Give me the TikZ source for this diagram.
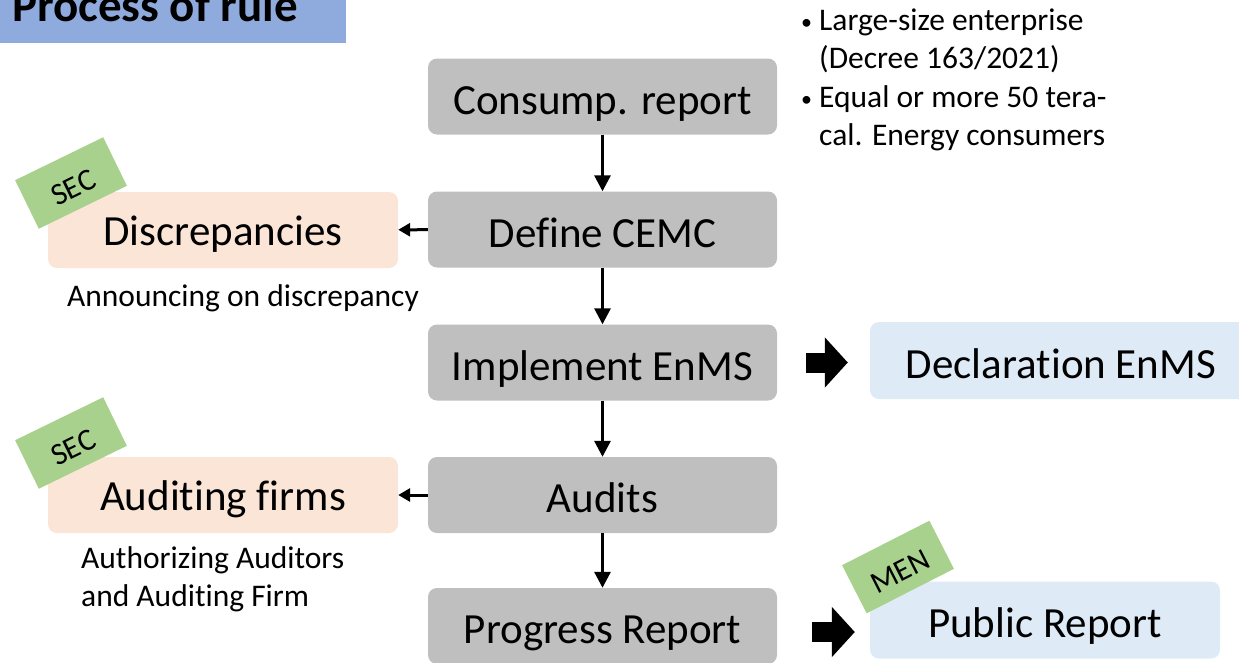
\documentclass[tikz,border=0pt]{standalone}
\usepackage{fontspec}
\setmainfont{Carlito}[RawFeature={-liga;-clig;-dlig;-calt}]
\usetikzlibrary{arrows.meta}
\definecolor{titleblue}{HTML}{8FAADC}
\definecolor{boxgray}{HTML}{BFBFBF}
\definecolor{peach}{HTML}{FBE5D6}
\definecolor{lightblue}{HTML}{DEEBF7}
\definecolor{taggreen}{HTML}{A9D18E}
\tikzset{
  boxbase/.style={rounded corners=9pt, minimum height=76pt, inner sep=0pt, text height=35pt, text depth=0pt, font=\fontsize{43}{50}\selectfont},
  gbox/.style={boxbase, fill=boxgray, minimum width=349pt},
  pbox/.style={boxbase, fill=peach, minimum width=350pt, text height=30pt},
  bbox/.style={boxbase, fill=lightblue, minimum height=77pt},
  tag/.style={fill=taggreen, minimum width=98pt, minimum height=54pt, inner sep=0pt, text height=30pt, text depth=0pt, font=\fontsize{31}{34}\selectfont},
  note/.style={font=\fontsize{31.5}{38.5}\selectfont, inner sep=0pt},
  flow/.style={line width=3pt, -{Triangle[length=16pt,width=16pt]}},
  sideflow/.style={line width=3pt, -{Triangle[length=12pt,width=13pt]}},
  blockarrow/.style={line width=20pt, -{Triangle[length=23pt,width=49pt]}},
}
\begin{document}
\begin{tikzpicture}[x=1pt,y=-1pt]
\useasboundingbox (0,0) rectangle (1239,662);
\clip (0,0) rectangle (1239,662);
% title
\fill[titleblue] (0,-5) rectangle (346,43);
\node[anchor=base west, inner sep=0pt, font=\fontsize{47}{52}\selectfont\bfseries] (title) at (12,21) {Process of rule};
% main column
\node[gbox] (c1) at (602.5,96.5) {Consump. report};
\node[gbox] (c2) at (602.5,229.5) {Define CEMC};
\node[gbox] (c3) at (602.5,362.5) {Implement EnMS};
\node[gbox] (c4) at (602.5,495) {Audits};
\node[gbox] (c5) at (602.5,626) {Progress Report};
% left boxes
\node[pbox] (disc) at (223,230) {Discrepancies};
\node[pbox] (audf) at (223,495) {Auditing firms};
% right boxes
\node[bbox, minimum width=382pt] (decl) at (1061,360.5) {Declaration EnMS};
\node[bbox, minimum width=350pt] (pub) at (1045,620) {Public Report};
% tags
\node[tag, rotate=26] (sec1) at (71,183) {SEC};
\node[tag, rotate=26] (sec2) at (71,443) {SEC};
\node[tag, rotate=27] (men) at (898,567) {MEN};
% notes
\node[note, anchor=base] (n1) at (243,306) {Announcing on discrepancy};
\node[note, anchor=base west] (n2) at (81,568) {\begin{tabular}[t]{@{}l@{}}Authorizing Auditors\\and Auditing Firm\end{tabular}};
\node[note, anchor=base west] (n3) at (801,30) {\begin{tabular}[t]{@{}l@{}}\makebox[18pt][l]{\raisebox{1pt}{\fontsize{22}{22}\selectfont\textbullet}}Large-size enterprise\\\hspace*{18pt}(Decree 163/2021)\\\makebox[18pt][l]{\raisebox{1pt}{\fontsize{22}{22}\selectfont\textbullet}}Equal or more 50 tera-\\\hspace*{18pt}cal. Energy consumers\end{tabular}};
% connectors
\draw[flow] (c1) -- (c2);
\draw[flow] (c2) -- (c3);
\draw[flow] (c3) -- (c4);
\draw[flow] (c4) -- (c5);
\draw[sideflow] (c2) -- (disc);
\draw[sideflow] (c4) -- (audf);
\draw[blockarrow, shorten <=29pt, shorten >=22pt] (c3.east) -- (c3.east -| decl.west);
\path (c5.east |- pub.west) ++(0,12) coordinate (a5);
\draw[blockarrow, shorten <=35pt, shorten >=15pt] (a5) -- (a5 -| pub.west);
\end{tikzpicture}
\end{document}
